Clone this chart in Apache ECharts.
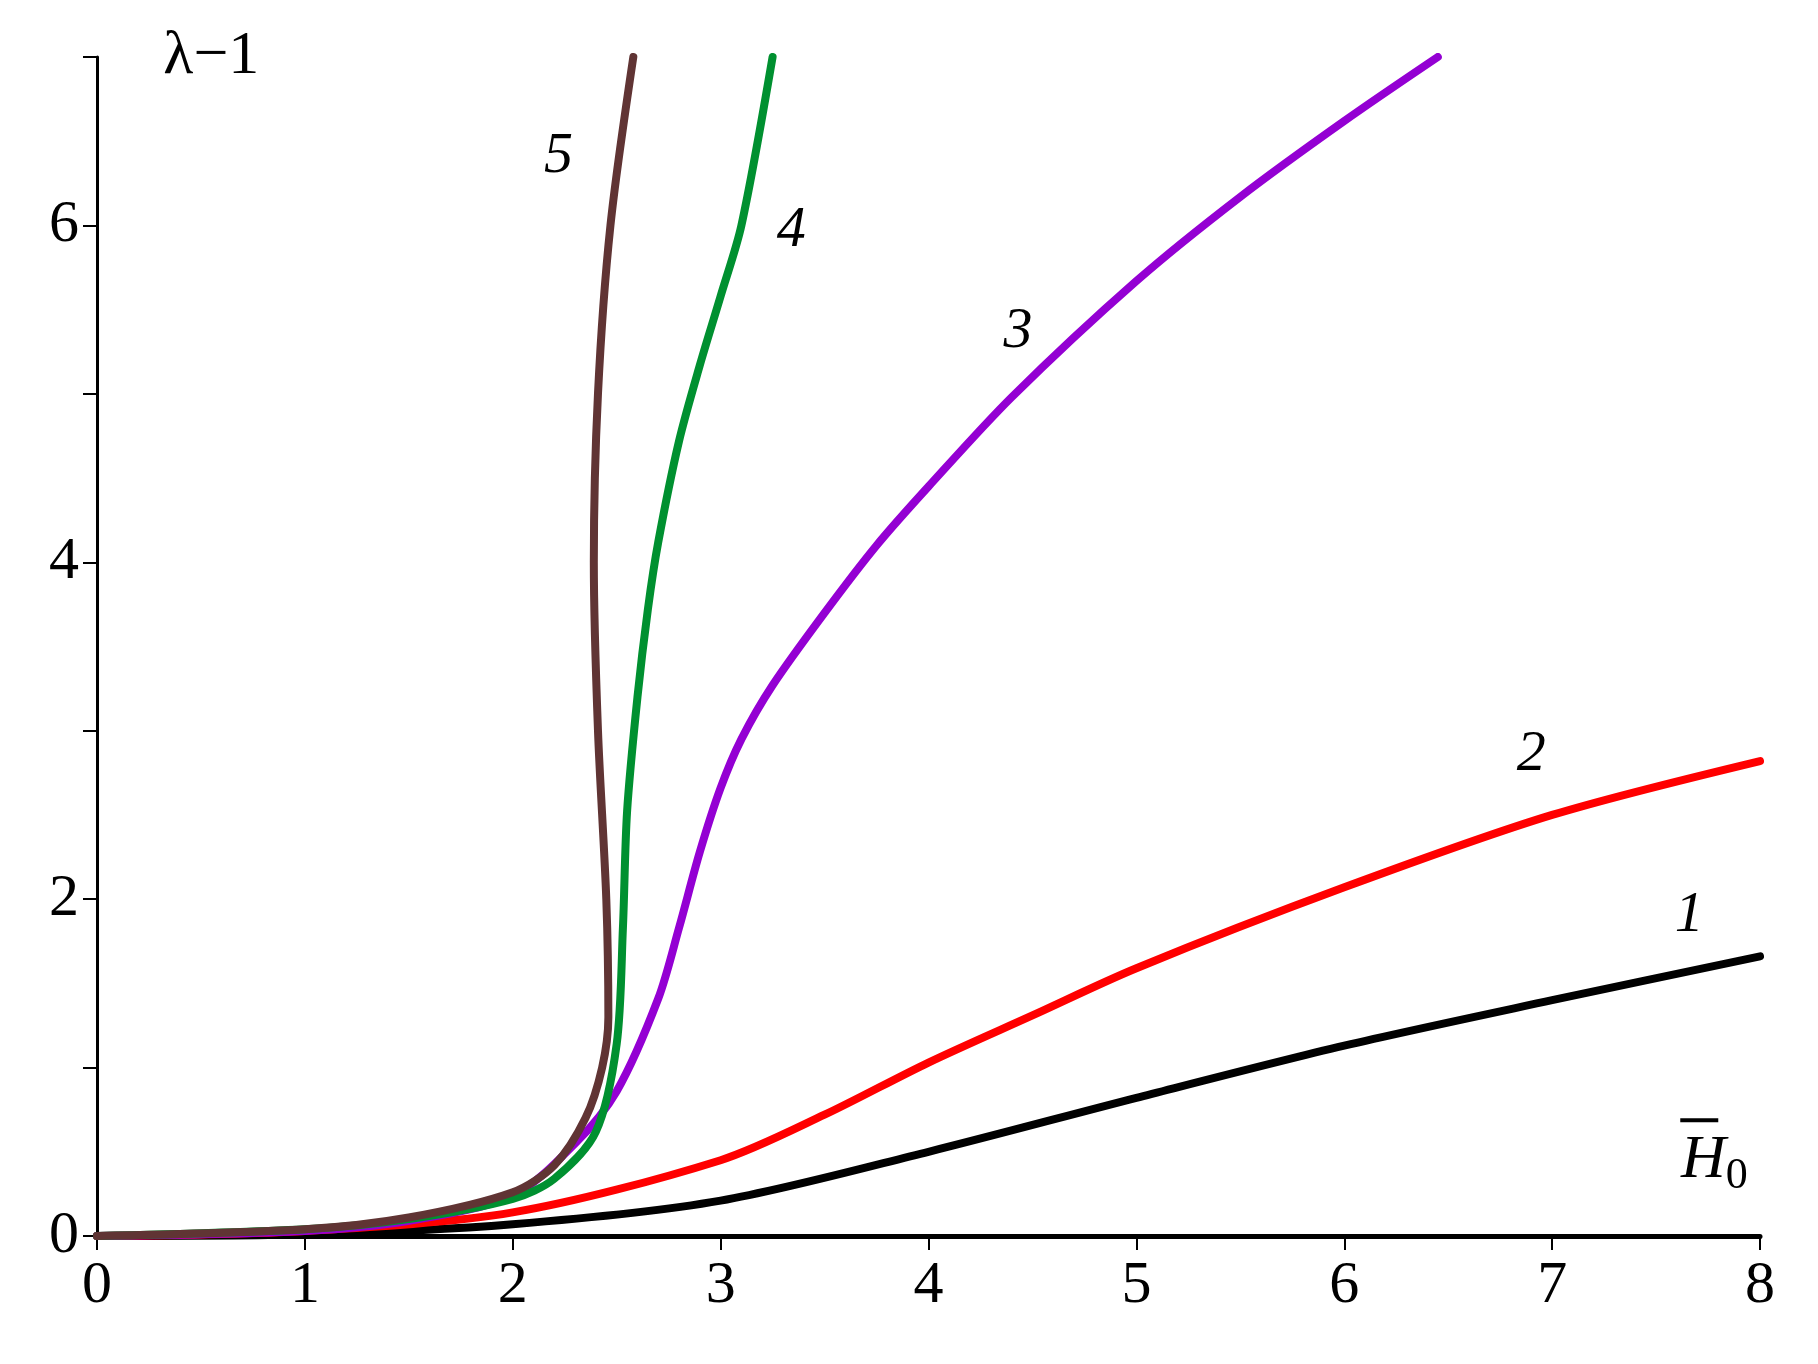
<!DOCTYPE html>
<html>
<head>
<meta charset="utf-8">
<script src="https://cdn.jsdelivr.net/npm/echarts@6/dist/echarts.min.js"></script>
<style>html,body{margin:0;background:#fff}#main{width:1818px;height:1364px}</style>
</head>
<body>
<div id="main"></div>
<script>
// curve data: [H0, lambda-1]
var curve1 = [[0,0],[1,0.01],[2,0.07],[3,0.21],[4,0.5],[5,0.82],[6,1.13],[7,1.4],[8,1.66]];
var curve2 = [[0,0],[1,0.03],[2,0.14],[3,0.45],[3.5,0.72],[4,1.03],[4.5,1.31],[5,1.59],[6,2.07],[7,2.5],[8,2.82]];
var curve3 = [[0,0],[1,0.03],[1.5,0.09],[2,0.24],[2.3,0.55],[2.5,0.86],[2.7,1.41],[2.8,1.83],[2.9,2.28],[3,2.66],[3.1,2.95],[3.25,3.27],[3.5,3.7],[3.75,4.1],[4,4.45],[4.4,4.98],[5,5.67],[5.5,6.17],[6,6.62],[6.45,7.0]];
var curve4 = [[0,0],[1,0.04],[1.5,0.1],[2,0.22],[2.2,0.34],[2.4,0.62],[2.5,1.14],[2.53,1.83],[2.55,2.52],[2.6,3.2],[2.65,3.72],[2.7,4.12],[2.8,4.72],[2.9,5.17],[3,5.58],[3.1,6.0],[3.25,7.0]];
var curve5 = [[0,0],[1,0.04],[1.5,0.11],[2,0.26],[2.2,0.42],[2.35,0.7],[2.43,1.0],[2.46,1.3],[2.45,2.0],[2.41,3.0],[2.39,4.0],[2.41,5.0],[2.47,6.0],[2.58,7.0]];
var curveNames = ['1','2','3','4','5'];
var curveColors = ['#000000','#ff0000','#9400d3','#009030','#603434'];
var labelPos = [[7.66,1.9],[6.9,2.86],[4.43,5.37],[3.34,5.97],[2.22,6.41]];
var xTicks = [0,1,2,3,4,5,6,7,8];
var yLabels = [0,2,4,6];

var curves = [curve1, curve2, curve3, curve4, curve5];
var chart = echarts.init(document.getElementById('main'));
var font = '"Liberation Serif", "DejaVu Serif", serif';
var series = curves.map(function (c, i) {
  return {type: 'line', data: c, showSymbol: false, smooth: 0.3, z: 2 + i,
    lineStyle: {color: curveColors[i], width: 8, cap: 'round'}};
});
series.push({
  type: 'scatter', symbolSize: 0, z: 20, itemStyle: {opacity: 1},
  data: labelPos.map(function (p, i) { return {value: p, name: curveNames[i]}; }),
  label: {show: true, position: 'inside', formatter: '{b}', fontFamily: font,
    fontStyle: 'italic', fontSize: 58, color: '#000', opacity: 1}
});
series.push({
  type: 'scatter', symbolSize: 0, z: 20,
  data: [{value: [0.55, 7.0], name: 'λ−1'}],
  label: {show: true, position: 'inside', formatter: '{b}', fontFamily: font,
    fontSize: 62, color: '#000', opacity: 1}
});
series.push({
  type: 'scatter', symbolSize: 0, z: 20,
  data: [{value: [7.78, 0.45], name: 'H'}],
  label: {show: true, position: 'inside', formatter: '{h|H}{s|0}', opacity: 1,
    rich: {h: {fontFamily: font, fontStyle: 'italic', fontSize: 62, color: '#000'},
           s: {fontFamily: font, fontSize: 44, color: '#000', padding: [32, 0, 0, 0]}}}
});
chart.setOption({
  animation: false,
  grid: {left: 97, right: 58, top: 57, bottom: 128},
  xAxis: {type: 'value', min: 0, max: 8, interval: 1,
    axisLine: {onZero: false, lineStyle: {color: '#000', width: 5}},
    axisTick: {length: 14, lineStyle: {color: '#000', width: 2}},
    axisLabel: {fontFamily: font, fontSize: 60, color: '#000', margin: 20,
      formatter: function (v) { return xTicks.indexOf(v) >= 0 ? String(v) : ''; }},
    splitLine: {show: false}},
  yAxis: {type: 'value', min: 0, max: 7, interval: 1,
    axisLine: {show: true, lineStyle: {color: '#000', width: 3}},
    axisTick: {show: true, length: 14, lineStyle: {color: '#000', width: 2}},
    axisLabel: {fontFamily: font, fontSize: 60, color: '#000', margin: 18,
      formatter: function (v) { return yLabels.indexOf(v) >= 0 ? String(v) : ''; }},
    splitLine: {show: false}},
  series: series
});
// overline on H
var p = chart.convertToPixel({gridIndex: 0}, [7.78, 0.45]);
chart.setOption({graphic: [{type: 'line', shape: {x1: p[0] - 34, y1: p[1] - 40, x2: p[0] + 4, y2: p[1] - 40},
  style: {stroke: '#000', lineWidth: 4}}]});
</script>
</body>
</html>
